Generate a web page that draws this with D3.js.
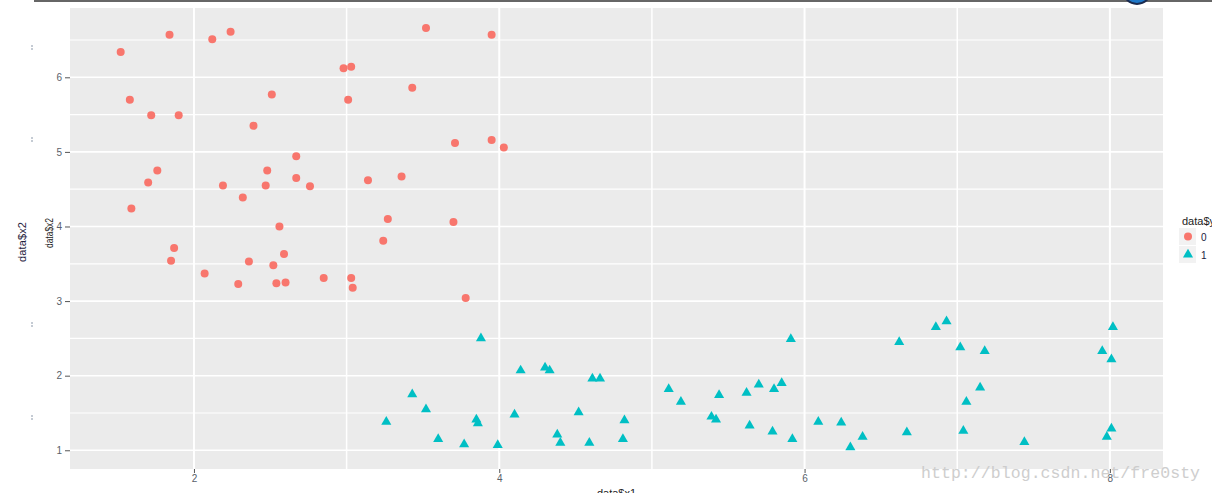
<!DOCTYPE html>
<html><head><meta charset="utf-8">
<script src="https://cdn.jsdelivr.net/npm/d3@7"></script>
<style>body{margin:0;background:#fff;overflow:hidden}svg{display:block}</style>
</head><body>
<svg id="c" width="1212" height="493"></svg>
<script>
// ---- data ----
const class0X = [1.52,1.84,2.12,2.24,1.58,1.72,1.90,2.51,2.39,2.67,1.76,1.70,2.48,2.67,2.19,2.47,2.32,1.59,2.56,1.87,1.85,2.07,2.29,2.36,2.52,2.59,2.54,2.60,3.52,3.95,2.98,3.03,3.43,3.01,3.71,3.95,4.03,2.76,3.14,3.36,3.27,3.70,3.24,2.85,3.03,3.04,3.78];
const class0Y = [6.34,6.57,6.51,6.61,5.70,5.49,5.49,5.77,5.35,4.94,4.75,4.59,4.75,4.65,4.55,4.55,4.39,4.24,4.00,3.71,3.54,3.37,3.23,3.53,3.48,3.63,3.24,3.25,6.66,6.57,6.12,6.14,5.86,5.70,5.12,5.16,5.06,4.54,4.62,4.67,4.10,4.06,3.81,3.31,3.31,3.18,3.04];
const class1X = [3.88,3.43,3.52,3.26,3.60,3.77,3.85,3.86,3.99,4.10,4.14,4.30,4.33,4.38,4.40,4.52,4.59,4.61,4.66,5.91,5.11,5.19,5.44,5.62,5.70,5.80,5.85,4.82,4.81,5.39,5.42,5.64,5.79,5.92,6.09,6.24,6.30,6.38,6.62,6.86,6.93,7.02,7.18,7.15,7.06,6.67,7.04,7.44,8.02,7.95,8.01,8.01,7.98];
const class1Y = [2.50,1.75,1.55,1.38,1.15,1.08,1.41,1.36,1.07,1.48,2.07,2.11,2.07,1.21,1.10,1.51,1.10,1.96,1.96,2.49,1.82,1.65,1.74,1.77,1.88,1.82,1.90,1.40,1.15,1.45,1.41,1.33,1.25,1.15,1.38,1.37,1.04,1.18,2.45,2.65,2.73,2.38,2.33,1.84,1.65,1.24,1.26,1.11,2.65,2.33,2.22,1.29,1.18];
const xTicks = [2,4,6,8];
const xMinor = [3,5,7];
const yTicks = [1,2,3,4,5,6];
const yMinor = [1.5,2.5,3.5,4.5,5.5,6.5];
const legendLabels = ["0","1"];
const legendTitle = "data$y";
const xTitle = "data$x1";
const yTitle = "data$x2";
const watermark = "http://blog.csdn.net/fre0sty";

// ---- layout ----
const svg = d3.select("#c");
const L = 70, R = 1163, T = 8, B = 469;
const colors = ["#F8766D", "#00BFC4"];
const x = d3.scaleLinear().domain([1.188, 8.348]).range([L, R]);
const y = d3.scaleLinear().domain([0.749, 6.929]).range([B, T]);

// top border + blue circle artefact
svg.append("rect").attr("x", 34).attr("y", 0).attr("width", 1178).attr("height", 2).attr("fill", "#666");
svg.append("circle").attr("cx", 1137).attr("cy", -10).attr("r", 14)
  .attr("fill", "#1f78c8").attr("stroke", "#1b2b4f").attr("stroke-width", 2);

// panel
svg.append("rect").attr("x", L).attr("y", T).attr("width", R - L).attr("height", B - T).attr("fill", "#EBEBEB");
const grid = svg.append("g");
grid.selectAll(".ym").data(yMinor).join("line")
  .attr("x1", L).attr("x2", R).attr("y1", d => y(d)).attr("y2", d => y(d))
  .attr("stroke", "#fff").attr("stroke-width", 1.2);
grid.selectAll(".xm").data(xMinor).join("line")
  .attr("y1", T).attr("y2", B).attr("x1", d => x(d)).attr("x2", d => x(d))
  .attr("stroke", "#fff").attr("stroke-width", 1.5);
grid.selectAll(".yM").data(yTicks).join("line")
  .attr("x1", L).attr("x2", R).attr("y1", d => y(d)).attr("y2", d => y(d))
  .attr("stroke", "#fff").attr("stroke-width", 1.6);
grid.selectAll(".xM").data(xTicks).join("line")
  .attr("y1", T).attr("y2", B).attr("x1", d => x(d)).attr("x2", d => x(d))
  .attr("stroke", "#fff").attr("stroke-width", 2);

// axes
const yAxis = svg.append("g").attr("transform", `translate(${L},0)`)
  .call(d3.axisLeft(y).tickValues(yTicks).tickSize(5).tickPadding(3).tickFormat(d3.format("d")));
const xAxis = svg.append("g").attr("transform", `translate(0,${B})`)
  .call(d3.axisBottom(x).tickValues(xTicks).tickSize(4).tickPadding(2).tickFormat(d3.format("d")));
[yAxis, xAxis].forEach(a => {
  a.select(".domain").remove();
  a.selectAll(".tick line").attr("stroke", "#555").attr("stroke-width", 1);
  a.selectAll(".tick text").attr("fill", "#5a5f6a").style("font-family", "Liberation Sans, Arial, sans-serif").style("font-size", "10px");
});

// points
const g0 = svg.append("g");
g0.selectAll("circle").data(d3.range(class0X.length)).join("circle")
  .attr("cx", i => x(class0X[i])).attr("cy", i => y(class0Y[i])).attr("r", 4)
  .attr("fill", colors[0]);
const tri = d3.symbol().type(d3.symbolTriangle).size(44);
const g1 = svg.append("g");
g1.selectAll("path").data(d3.range(class1X.length)).join("path")
  .attr("d", tri).attr("transform", i => `translate(${x(class1X[i])},${y(class1Y[i])})`)
  .attr("fill", colors[1]);

// axis titles
const font = "Liberation Sans, Arial, sans-serif";
svg.append("text").attr("transform", "translate(26,242) rotate(-90)").attr("text-anchor", "middle")
  .attr("fill", "#1f2340").style("font-family", font).style("font-size", "11px")
  .attr("textLength", 40).text(yTitle);
svg.append("text").attr("transform", "translate(53,233) rotate(-90)").attr("text-anchor", "middle")
  .attr("fill", "#222").style("font-family", font).style("font-size", "11px")
  .attr("textLength", 30).attr("lengthAdjust", "spacingAndGlyphs").text(yTitle);
svg.append("text").attr("x", (L + R) / 2).attr("y", 497).attr("text-anchor", "middle")
  .attr("fill", "#222").style("font-family", font).style("font-size", "11px").text(xTitle);

// ghost tick artefacts at the far left
svg.selectAll(".ghost").data([48, 140, 325, 418]).join("line")
  .attr("x1", 32).attr("x2", 32).attr("y1", d => d - 3).attr("y2", d => d + 3)
  .attr("stroke", "#8a97a8").attr("stroke-width", 1).attr("stroke-dasharray", "2,1");

// legend
const lg = svg.append("g");
lg.append("text").attr("x", 1182).attr("y", 225).attr("fill", "#222")
  .style("font-family", font).style("font-size", "11px").text(legendTitle);
legendLabels.forEach((lab, i) => {
  const yy = 228 + i * 18;
  lg.append("rect").attr("x", 1179).attr("y", yy).attr("width", 17).attr("height", 17).attr("fill", "#F2F2F2");
  if (i === 0) lg.append("circle").attr("cx", 1188).attr("cy", yy + 8.5).attr("r", 4).attr("fill", colors[0]);
  else lg.append("path").attr("d", tri).attr("transform", `translate(1188,${yy + 8.5})`).attr("fill", colors[1]);
  lg.append("text").attr("x", 1201).attr("y", yy + 12.5).attr("fill", "#1a1a40")
    .style("font-family", font).style("font-size", "10px").text(lab);
});

// watermark
svg.append("text").attr("x", 921).attr("y", 478).attr("fill", "#c9c9c9").attr("opacity", 0.9)
  .style("font-family", "Liberation Mono, DejaVu Sans Mono, monospace").style("font-size", "16.5px")
  .attr("textLength", 279).text(watermark);
</script>
</body></html>
